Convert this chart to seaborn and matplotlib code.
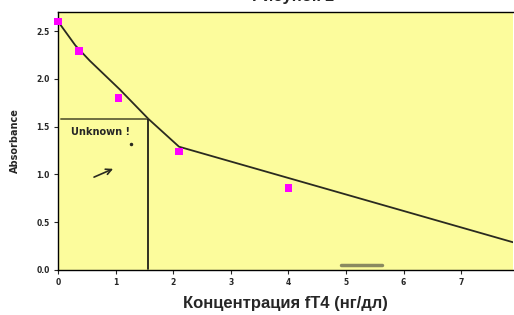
import numpy as np
import pandas as pd
import seaborn as sns
import matplotlib.pyplot as plt

# standards (magenta squares)
std_conc = [0.0, 0.36, 1.05, 2.1, 4.0]
std_abs = [2.6, 2.29, 1.80, 1.24, 0.86]

# fitted curve
fit_conc = [0.0, 0.3, 0.55, 1.07, 1.57, 2.1, 7.9]
fit_abs = [2.6, 2.35, 2.19, 1.89, 1.58, 1.29, 0.29]

# unknown sample read-off
unk_abs = 1.58
unk_conc = 1.57

x_ticks = [0, 1, 2, 3, 4, 5, 6, 7]
y_ticks = [0.0, 0.5, 1.0, 1.5, 2.0, 2.5]
y_tick_labels = ['0.0', '0.5', '1.0', '1.5', '2.0', '2.5']

std = pd.DataFrame({'conc': std_conc, 'abs': std_abs})
fit = pd.DataFrame({'conc': fit_conc, 'abs': fit_abs})

sns.set_style('ticks')
plt.rcParams['font.family'] = ['Liberation Sans Narrow', 'Liberation Sans', 'DejaVu Sans']

fig = plt.figure(figsize=(5.14, 3.15), dpi=100)
ax = fig.add_axes([0.113, 0.143, 0.885, 0.819])
ax.set_facecolor('#fcfc9c')

sns.lineplot(data=fit, x='conc', y='abs', ax=ax, color='#2a2a20', linewidth=1.3)
sns.scatterplot(data=std, x='conc', y='abs', ax=ax, color='#ff00ff', marker='s',
                s=30, edgecolor='none', zorder=5, clip_on=False)

ax.plot([0.05, unk_conc], [unk_abs, unk_abs], color='#6e6e40', linewidth=1.4)
ax.plot([unk_conc, unk_conc], [0.01, unk_abs], color='#202018', linewidth=1.3)
ax.plot([4.92, 5.63], [0.05, 0.05], color='#8a8a60', linewidth=2.5, solid_capstyle='round')

ax.text(0.22, 1.41, 'Unknown !', fontsize=7, fontweight='bold', family='DejaVu Sans')
ax.plot([1.26], [1.32], marker='o', markersize=1.5, color='#2a2a20')
ax.annotate('', xy=(1.0, 1.07), xytext=(0.58, 0.96),
            arrowprops=dict(arrowstyle='->', color='#2a2a20', lw=1.2))

ax.set_xlim(0, 7.9)
ax.set_ylim(0, 2.7)
ax.set_xticks(x_ticks)
ax.set_yticks(y_ticks)
ax.set_yticklabels(y_tick_labels)
ax.tick_params(labelsize=5.5, length=3, width=0.8, pad=3)
for lab in ax.get_xticklabels() + ax.get_yticklabels():
    lab.set_fontweight('bold')
    lab.set_family('DejaVu Sans')

ax.set_xlabel('Концентрация fT4 (нг/дл)', fontsize=12, fontweight='bold', labelpad=6)
ax.set_ylabel('Absorbance', fontsize=7, fontweight='bold', family='DejaVu Sans', labelpad=12)
ax.spines['right'].set_visible(False)
for s in ['left', 'bottom', 'top']:
    ax.spines[s].set_linewidth(1.0)
    ax.spines[s].set_color('black')

# title sits partly above the top edge, as in the source image
fig.text(0.57, 1.012, 'Рисунок 1', ha='center', va='center', fontsize=12, fontweight='bold')

fig.savefig('out.png', dpi=100)
